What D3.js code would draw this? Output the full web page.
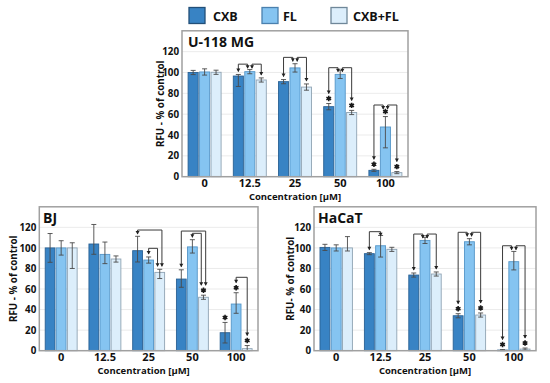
<!DOCTYPE html>
<html>
<head>
<meta charset="utf-8">
<script src="https://cdn.jsdelivr.net/npm/d3@7"></script>
<style>
  html, body { margin: 0; padding: 0; background: #ffffff; }
  svg { display: block; }
</style>
</head>
<body>
<svg id="chart" width="550" height="383"></svg>
<script>
// ---------------- DATA ----------------
const categories = ["0", "12.5", "25", "50", "100"];
const seriesNames = ["CXB", "FL", "CXB+FL"];
const yTicks = [0, 20, 40, 60, 80, 100, 120];

// U-118 MG  (rows: CXB, FL, CXB+FL)
const u118Values = [[100, 96.6, 91.2, 67.2, 6.1], [100.5, 100.8, 104.4, 98.2, 47.7], [100.2, 92.8, 86, 61.6, 3.9]];
const u118ErrUp  = [[2, 1.5, 2, 3, 1], [3, 2, 4, 4, 10], [2, 2, 3, 2, 1]];
const u118ErrDn  = [[2, 10, 2, 3, 1], [3, 2, 4, 4, 20], [2, 2, 3, 2, 1]];
// brackets: [category index, series a, series b, bracket level]
const u118Brackets = [[1, 0, 1, 108], [1, 1, 2, 108], [2, 0, 1, 114.5], [2, 1, 2, 114.5], [3, 0, 1, 104.6], [3, 1, 2, 104.6], [4, 0, 1, 68.8], [4, 1, 2, 68.8]];
const u118Stars = [[3, 0], [3, 2], [4, 0], [4, 1], [4, 2]];

// BJ
const bjValues = [[100, 103.8, 97.3, 69.7, 17.5], [100, 93.7, 88.2, 101, 45.4], [100, 89.2, 76.2, 52, 2]];
const bjErrUp  = [[14, 19, 14, 9, 10], [7, 12, 3, 7, 11], [5, 3, 3, 2, 3]];
const bjErrDn  = [[14, 10, 11, 8, 10], [7, 9, 3, 6, 9], [20, 3, 6, 2, 2]];
const bjBrackets = [[2, 0, 2, 117.4], [2, 1, 2, 99.6], [3, 0, 2, 116.4], [3, 1, 2, 114.2], [4, 1, 2, 71.4]];
const bjStars = [[3, 2], [4, 0], [4, 1], [4, 2]];

// HaCaT
const hacatValues = [[100.5, 94.4, 73.6, 34, 0.6], [100, 102.1, 107.3, 106, 86.6], [100, 98.6, 74.6, 34.7, 1.6]];
const hacatErrUp  = [[3, 1, 2, 2, 0.5], [3, 10, 3, 3, 10], [11, 2, 2, 2, 1]];
const hacatErrDn  = [[3, 1, 2, 2, 0.5], [3, 11, 3, 3, 8], [3, 2, 2, 2, 1]];
const hacatBrackets = [[1, 0, 1, 115.8], [2, 0, 1, 113.5], [2, 1, 2, 113.5], [3, 0, 1, 115.2], [3, 1, 2, 115.2], [4, 0, 1, 102.1], [4, 1, 2, 102.1]];
const hacatStars = [[3, 0], [3, 2], [4, 0], [4, 2]];

// ---------------- STYLE ----------------
const seriesFill = ["#3883c4", "#85c4f1", "#dceefb"];
const seriesStroke = ["#2a6194", "#5596c8", "#8fa3b3"];
const legendStroke = ["#224f78", "#4a80ae", "#6f8799"];
const FONT = "'Open Sans', 'DejaVu Sans', sans-serif";

const svg = d3.select("#chart");

// ---------------- LEGEND ----------------
const legendBoxX = [189, 262, 331];
const legendTextX = [213, 283, 353];
seriesNames.forEach((name, i) => {
  svg.append("rect")
    .attr("x", legendBoxX[i]).attr("y", 7.5)
    .attr("width", 16).attr("height", 16)
    .attr("fill", seriesFill[i]).attr("stroke", legendStroke[i]).attr("stroke-width", 1.3);
  svg.append("text")
    .attr("x", legendTextX[i]).attr("y", 21)
    .attr("font-family", FONT).attr("font-weight", 700).attr("font-size", 12.5)
    .attr("fill", "#111").text(name);
});

// ---------------- PANELS ----------------
function drawPanel(p) {
  const x = d3.scaleBand().domain(categories).range([p.left, p.right]);
  const bw = x.bandwidth();
  const xs = d3.scaleBand().domain(d3.range(seriesNames.length))
    .range([bw * 0.135, bw * 0.865]).paddingInner(0.12);
  const y = d3.scaleLinear().domain([0, 140]).range([p.bottom, p.top]);
  const g = svg.append("g");

  // background + grid
  g.append("rect").attr("x", p.left).attr("y", p.top)
    .attr("width", p.right - p.left).attr("height", p.bottom - p.top).attr("fill", "#fff");
  g.selectAll("line.grid").data(yTicks.slice(1)).join("line")
    .attr("class", "grid")
    .attr("x1", p.left).attr("x2", p.right)
    .attr("y1", d => y(d)).attr("y2", d => y(d))
    .attr("stroke", "#e6e6e6").attr("stroke-width", 0.8);

  // y axis
  const yAxis = g.append("g").attr("transform", `translate(${p.left},0)`)
    .call(d3.axisLeft(y).tickValues(yTicks).tickSize(0).tickPadding(3));
  yAxis.select(".domain").remove();
  yAxis.selectAll("text").attr("font-family", FONT).attr("font-weight", 700)
    .attr("font-size", 9.8).attr("fill", "#111");

  // x axis
  const xAxis = g.append("g").attr("transform", `translate(0,${p.bottom})`)
    .call(d3.axisBottom(x).tickSize(0).tickPadding(2));
  xAxis.select(".domain").remove();
  xAxis.selectAll("text").attr("font-family", FONT).attr("font-weight", 700)
    .attr("font-size", 11).attr("fill", "#111");

  // bars
  const barData = [];
  p.values.forEach((row, s) => row.forEach((v, c) => barData.push({
    s, c, v, up: p.errUp[s][c], dn: p.errDn[s][c]
  })));
  const bx = d => x(categories[d.c]) + xs(d.s);
  g.selectAll("rect.bar").data(barData).join("rect")
    .attr("class", "bar")
    .attr("x", bx).attr("y", d => y(d.v))
    .attr("width", xs.bandwidth()).attr("height", d => y(0) - y(d.v))
    .attr("fill", d => seriesFill[d.s]).attr("stroke", d => seriesStroke[d.s]).attr("stroke-width", 0.9);

  // error bars
  const cx = (c, s) => x(categories[c]) + xs(s) + xs.bandwidth() / 2;
  const eg = g.append("g").attr("stroke", "#4a4a4a").attr("stroke-width", 0.9).attr("fill", "none");
  barData.forEach(d => {
    const xc = cx(d.c, d.s);
    const yT = y(d.v + d.up), yB = y(Math.max(0, d.v - d.dn));
    eg.append("line").attr("x1", xc).attr("x2", xc).attr("y1", yT).attr("y2", yB);
    eg.append("line").attr("x1", xc - 2.5).attr("x2", xc + 2.5).attr("y1", yT).attr("y2", yT);
    eg.append("line").attr("x1", xc - 2.5).attr("x2", xc + 2.5).attr("y1", yB).attr("y2", yB);
  });

  // frame
  g.append("rect").attr("x", p.left).attr("y", p.top)
    .attr("width", p.right - p.left).attr("height", p.bottom - p.top)
    .attr("fill", "none").attr("stroke", "#a0a0a0").attr("stroke-width", 1.5);

  // significance stars
  const hasStar = (c, s) => p.stars.some(st => st[0] === c && st[1] === s);
  const errTopY = (c, s) => y(p.values[s][c] + p.errUp[s][c]);
  const star = d3.symbol().type(d3.symbolAsterisk).size(20);
  p.stars.forEach(([c, s]) => {
    const t = `translate(${cx(c, s)},${errTopY(c, s) - 5})`;
    g.append("circle").attr("r", 1.7).attr("transform", t).attr("fill", "#1a1a1a");
    g.append("path").attr("d", star).attr("transform", t)
      .attr("fill", "none").attr("stroke", "#1a1a1a").attr("stroke-width", 1.6);
  });

  // brackets
  const armOffset = (c, self, other) => {
    const shared = p.brackets.filter(b => b[0] === c && (b[1] === self || b[2] === self));
    if (shared.length < 2) return 0;
    const others = shared.map(b => (b[1] === self ? b[2] : b[1]));
    const dir = Math.sign(other - self);
    const allSameSide = others.every(o => Math.sign(o - self) === dir);
    if (!allSameSide) return dir * 2.2;
    const maxSpan = d3.max(others, o => Math.abs(o - self));
    return (Math.abs(other - self) === maxSpan ? -dir : dir) * 2.2;
  };
  const bg = g.append("g");
  p.brackets.forEach(([c, a, b, level]) => {
    const ly = y(level);
    const end = s => {
      const base = errTopY(c, s) - (hasStar(c, s) ? 10 : 3);
      return Math.max(base, ly + 4);
    };
    const xa = cx(c, a) + armOffset(c, a, b);
    const xb = cx(c, b) + armOffset(c, b, a);
    const ya = end(a), yb = end(b);
    bg.append("path")
      .attr("d", `M${xa},${ya} V${ly} H${xb} V${yb}`)
      .attr("fill", "none").attr("stroke", "#3a3a3a").attr("stroke-width", 1);
    [[xa, ya], [xb, yb]].forEach(([px, py]) => {
      bg.append("path")
        .attr("d", `M${px - 2},${py - 3} L${px + 2},${py - 3} L${px},${py + 0.5} Z`)
        .attr("fill", "#222");
    });
  });

  // title
  g.append("text").attr("x", p.titleX).attr("y", p.top + 16.5)
    .attr("font-family", FONT).attr("font-weight", 700).attr("font-size", 14)
    .attr("fill", "#111").text(p.name);

  // y label
  g.append("text")
    .attr("transform", `translate(${p.ylabX},${(p.top + p.bottom) / 2}) rotate(-90)`)
    .attr("text-anchor", "middle")
    .attr("font-family", FONT).attr("font-weight", 700).attr("font-size", 9.8)
    .attr("fill", "#111").text(p.ylab);

  // x label
  g.append("text")
    .attr("x", (p.left + p.right) / 2 + p.xlabShift).attr("y", p.bottom + 23.5)
    .attr("text-anchor", "middle")
    .attr("font-family", FONT).attr("font-weight", 700).attr("font-size", 9.5)
    .attr("fill", "#111").text("Concentration [µM]");
}

drawPanel({
  name: "U-118 MG", left: 182, right: 408, top: 30.8, bottom: 176.7,
  values: u118Values, errUp: u118ErrUp, errDn: u118ErrDn,
  brackets: u118Brackets, stars: u118Stars,
  titleX: 188, ylabX: 163.5, ylab: "RFU - % of control", xlabShift: 0
});
drawPanel({
  name: "BJ", left: 39.3, right: 258, top: 206.8, bottom: 350.7,
  values: bjValues, errUp: bjErrUp, errDn: bjErrDn,
  brackets: bjBrackets, stars: bjStars,
  titleX: 43, ylabX: 16.5, ylab: "RFU - % of control", xlabShift: -5
});
drawPanel({
  name: "HaCaT", left: 314, right: 536, top: 206.8, bottom: 350.7,
  values: hacatValues, errUp: hacatErrUp, errDn: hacatErrDn,
  brackets: hacatBrackets, stars: hacatStars,
  titleX: 318, ylabX: 293.5, ylab: "RFU- % of control", xlabShift: 0
});
</script>
</body>
</html>
